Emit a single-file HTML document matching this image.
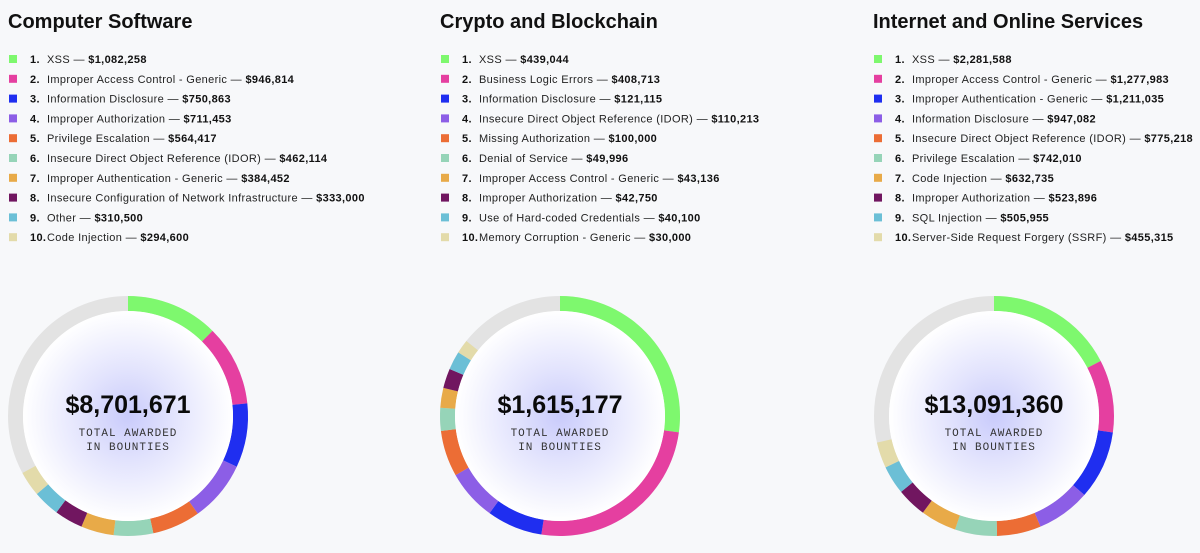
<!DOCTYPE html>
<html><head><meta charset="utf-8">
<style>
html,body{margin:0;padding:0;background:#f7f8fa;width:1200px;height:553px;overflow:hidden;font-family:"Liberation Sans",sans-serif;}
svg{display:block}
</style></head>
<body>
<svg id="chart" width="1200" height="553" xmlns="http://www.w3.org/2000/svg">
<defs>
<radialGradient id="glow" cx="50%" cy="50%" r="50%">
<stop offset="0%" stop-color="#c9cbfb"/>
<stop offset="45%" stop-color="#e3e4fd"/>
<stop offset="100%" stop-color="#ffffff"/>
</radialGradient>
</defs>
</svg>
<script>
const colors = ["#7ef86e","#e53fa0","#1f2ef0","#8c5ee6","#ec6d35","#96d4b8","#e8aa48","#711660","#6bbfd6","#e3dbaa"];
const titles = ["Computer Software","Crypto and Blockchain","Internet and Online Services"];
const totals = [8701671, 1615177, 13091360];
const totalLabels = ["$8,701,671","$1,615,177","$13,091,360"];
const labels0 = ["XSS","Improper Access Control - Generic","Information Disclosure","Improper Authorization","Privilege Escalation","Insecure Direct Object Reference (IDOR)","Improper Authentication - Generic","Insecure Configuration of Network Infrastructure","Other","Code Injection"];
const values0 = [1082258,946814,750863,711453,564417,462114,384452,333000,310500,294600];
const labels1 = ["XSS","Business Logic Errors","Information Disclosure","Insecure Direct Object Reference (IDOR)","Missing Authorization","Denial of Service","Improper Access Control - Generic","Improper Authorization","Use of Hard-coded Credentials","Memory Corruption - Generic"];
const values1 = [439044,408713,121115,110213,100000,49996,43136,42750,40100,30000];
const labels2 = ["XSS","Improper Access Control - Generic","Improper Authentication - Generic","Information Disclosure","Insecure Direct Object Reference (IDOR)","Privilege Escalation","Code Injection","Improper Authorization","SQL Injection","Server-Side Request Forgery (SSRF)"];
const values2 = [2281588,1277983,1211035,947082,775218,742010,632735,523896,505955,455315];

const allLabels=[labels0,labels1,labels2], allValues=[values0,values1,values2];
const NS="http://www.w3.org/2000/svg";
const svg=document.getElementById('chart');
const colX=[8,440,873], centersX=[128,560,994], cy=416, rOut=120, rIn=105;
function mk(tag,attrs,parent){const e=document.createElementNS(NS,tag);for(const k in attrs)e.setAttribute(k,attrs[k]);(parent||svg).appendChild(e);return e;}
function fmt(v){return "$"+v.toLocaleString("en-US");}
function pt(cx,r,a){return [cx+r*Math.sin(a), cy-r*Math.cos(a)];}
function arc(cx,a0,a1){
  const large=(a1-a0)>Math.PI?1:0;
  const [x0,y0]=pt(cx,rOut,a0),[x1,y1]=pt(cx,rOut,a1),[x2,y2]=pt(cx,rIn,a1),[x3,y3]=pt(cx,rIn,a0);
  return `M${x0},${y0}A${rOut},${rOut} 0 ${large} 1 ${x1},${y1}L${x2},${y2}A${rIn},${rIn} 0 ${large} 0 ${x3},${y3}Z`;
}
for(let c=0;c<3;c++){
  const g=mk('g',{});
  
  
  const t=mk('text',{x:colX[c],y:28,'font-size':20,'font-weight':'bold',fill:'#111'},g);
  t.textContent=titles[c];
  
  
  const labs=allLabels[c], vals=allValues[c];
  for(let i=0;i<labs.length;i++){
    const y=59+i*19.8;
    const row=mk('g',{},g);
    
    
    mk('rect',{x:colX[c]+1,y:y-4,width:8,height:8,fill:colors[i]},row);
    const tx=mk('text',{x:colX[c]+22,y:y+4,'font-size':11,'letter-spacing':0.35,fill:'#222'},row);
    const n=mk('tspan',{'font-weight':'bold',fill:'#111'},tx); n.textContent=(i+1)+'.';
    const l=mk('tspan',{x:colX[c]+39},tx); l.textContent=labs[i]+' — ';
    const v=mk('tspan',{'font-weight':'bold',fill:'#111'},tx); v.textContent=fmt(vals[i]);
  }
  const cx=centersX[c];
  const bg=mk('circle',{cx:cx,cy:cy,r:(rOut+rIn)/2,fill:'none',stroke:'#e3e3e3','stroke-width':rOut-rIn},g);
  
  
  let a=0;
  for(let i=0;i<vals.length;i++){
    const da=vals[i]/totals[c]*2*Math.PI;
    const p=mk('path',{d:arc(cx,a,a+da),fill:colors[i]},g);
    
    
    a+=da;
  }
  const inner=mk('circle',{cx:cx,cy:cy,r:rIn,fill:'url(#glow)'},g);
  
  
  const tt=mk('text',{x:cx,y:cy-3,'text-anchor':'middle','font-size':25,'font-weight':'bold',fill:'#0a0a0a'},g);
  tt.textContent=totalLabels[c];
  
  
  const s1=mk('text',{x:cx,y:cy+20,'text-anchor':'middle','font-size':11,'font-family':'Liberation Mono, monospace','letter-spacing':1,fill:'#333'},g);
  s1.textContent='TOTAL AWARDED';
  
  
  const s2=mk('text',{x:cx,y:cy+34,'text-anchor':'middle','font-size':11,'font-family':'Liberation Mono, monospace','letter-spacing':1,fill:'#333'},g);
  s2.textContent='IN BOUNTIES';
  
  
}
</script>
</body></html>
